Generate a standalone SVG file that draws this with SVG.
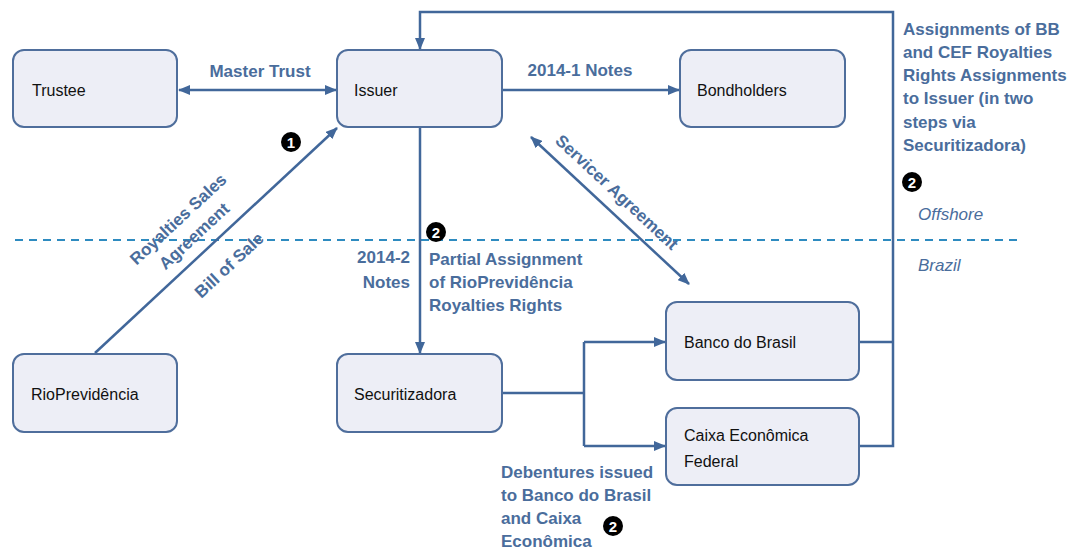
<svg xmlns="http://www.w3.org/2000/svg" width="1075" height="552" viewBox="0 0 1075 552">
<defs>
<marker id="ah" markerUnits="userSpaceOnUse" markerWidth="12" markerHeight="10" refX="11" refY="5" orient="auto-start-reverse" viewBox="0 0 12 10">
<path d="M0,0 L12,5 L0,10 z" fill="#41679A"/>
</marker>
<style>
.box{fill:#EDEEF6;stroke:#4F6E9C;stroke-width:2}
.nt{font-family:"Liberation Sans",Arial,sans-serif;font-size:16px;fill:#111}
.lb{font-family:"Liberation Sans",Arial,sans-serif;font-size:17px;font-weight:bold;fill:#4A6D9C}
.it{font-family:"Liberation Sans",Arial,sans-serif;font-size:17px;font-style:italic;fill:#4A6D9C}
.cn{fill:none;stroke:#41679A;stroke-width:2.5}
.num{font-family:"Liberation Sans",Arial,sans-serif;font-size:15px;font-weight:bold;fill:#fff}
</style>
</defs>
<rect width="1075" height="552" fill="#fff"/>
<line x1="15" y1="240" x2="1022" y2="240" stroke="#2E8BC0" stroke-width="1.8" stroke-dasharray="8,6"/>
<g id="connectors">
<line class="cn" x1="179" y1="90" x2="336" y2="90" marker-start="url(#ah)" marker-end="url(#ah)"/>
<line class="cn" x1="502" y1="90" x2="679" y2="90" marker-end="url(#ah)"/>
<line class="cn" x1="420" y1="127" x2="420" y2="353" marker-end="url(#ah)"/>
<line class="cn" x1="95" y1="353" x2="337" y2="128" marker-end="url(#ah)"/>
<line class="cn" x1="531" y1="137" x2="689" y2="284" marker-start="url(#ah)" marker-end="url(#ah)"/>
<path class="cn" d="M502,393 H584"/>
<path class="cn" d="M584,342 V446"/>
<line class="cn" x1="584" y1="342" x2="665" y2="342" marker-end="url(#ah)"/>
<line class="cn" x1="584" y1="446" x2="665" y2="446" marker-end="url(#ah)"/>
<path class="cn" d="M859,342 H893"/>
<path class="cn" d="M859,446 H893 V12 H420 V49" marker-end="url(#ah)"/>
</g>
<g id="trustee"><rect class="box" x="13" y="50" width="164" height="77" rx="11"/><text class="nt" x="32" y="96">Trustee</text></g>
<g id="issuer"><rect class="box" x="337" y="50" width="165" height="77" rx="11"/><text class="nt" x="354" y="96">Issuer</text></g>
<g id="bondholders"><rect class="box" x="680" y="50" width="165" height="77" rx="11"/><text class="nt" x="697" y="96">Bondholders</text></g>
<g id="rioprevidencia"><rect class="box" x="13" y="354" width="164" height="78" rx="11"/><text class="nt" x="31" y="400">RioPrevidência</text></g>
<g id="securitizadora"><rect class="box" x="337" y="354" width="165" height="78" rx="11"/><text class="nt" x="354" y="400">Securitizadora</text></g>
<g id="bancodobrasil"><rect class="box" x="666" y="302" width="193" height="78" rx="11"/><text class="nt" x="684" y="348">Banco do Brasil</text></g>
<g id="caixa"><rect class="box" x="666" y="408" width="193" height="77" rx="11"/><text class="nt" x="684" y="441">Caixa Econômica</text><text class="nt" x="684" y="467">Federal</text></g>
<g id="labels">
<text class="lb" x="260" y="77" text-anchor="middle">Master Trust</text>
<text class="lb" x="580" y="76" text-anchor="middle">2014-1 Notes</text>
<g transform="translate(178,219) rotate(-42.9)"><text class="lb" x="0" y="6" text-anchor="middle">Royalties Sales</text></g>
<g transform="translate(194,236) rotate(-42.9)"><text class="lb" x="0" y="6" text-anchor="middle">Agreement</text></g>
<g transform="translate(229,265) rotate(-42.9)"><text class="lb" x="0" y="6" text-anchor="middle">Bill of Sale</text></g>
<g transform="translate(617,192) rotate(42.9)"><text class="lb" x="0" y="6" text-anchor="middle">Servicer Agreement</text></g>
<text class="lb" x="410" y="263" text-anchor="end">2014-2</text>
<text class="lb" x="410" y="288" text-anchor="end">Notes</text>
<text class="lb" x="429" y="265">Partial Assignment</text>
<text class="lb" x="429" y="288">of RioPrevidência</text>
<text class="lb" x="429" y="311">Royalties Rights</text>
<text class="lb" x="903" y="35">Assignments of BB</text>
<text class="lb" x="903" y="58">and CEF Royalties</text>
<text class="lb" x="903" y="81">Rights Assignments</text>
<text class="lb" x="903" y="104">to Issuer (in two</text>
<text class="lb" x="903" y="128">steps via</text>
<text class="lb" x="903" y="151">Securitizadora)</text>
<text class="lb" x="501" y="478">Debentures issued</text>
<text class="lb" x="501" y="501">to Banco do Brasil</text>
<text class="lb" x="501" y="524">and Caixa</text>
<text class="lb" x="501" y="547">Econômica</text>
<text class="it" x="918" y="220">Offshore</text>
<text class="it" x="918" y="271">Brazil</text>
</g>
<g id="markers-num">
<circle cx="291" cy="142" r="10" fill="#000"/><text class="num" x="291" y="147.5" text-anchor="middle">1</text>
<circle cx="436" cy="232" r="10" fill="#000"/><text class="num" x="436" y="237.5" text-anchor="middle">2</text>
<circle cx="912" cy="182" r="10" fill="#000"/><text class="num" x="912" y="187.5" text-anchor="middle">2</text>
<circle cx="613" cy="526" r="10" fill="#000"/><text class="num" x="613" y="531.5" text-anchor="middle">2</text>
</g>
</svg>
